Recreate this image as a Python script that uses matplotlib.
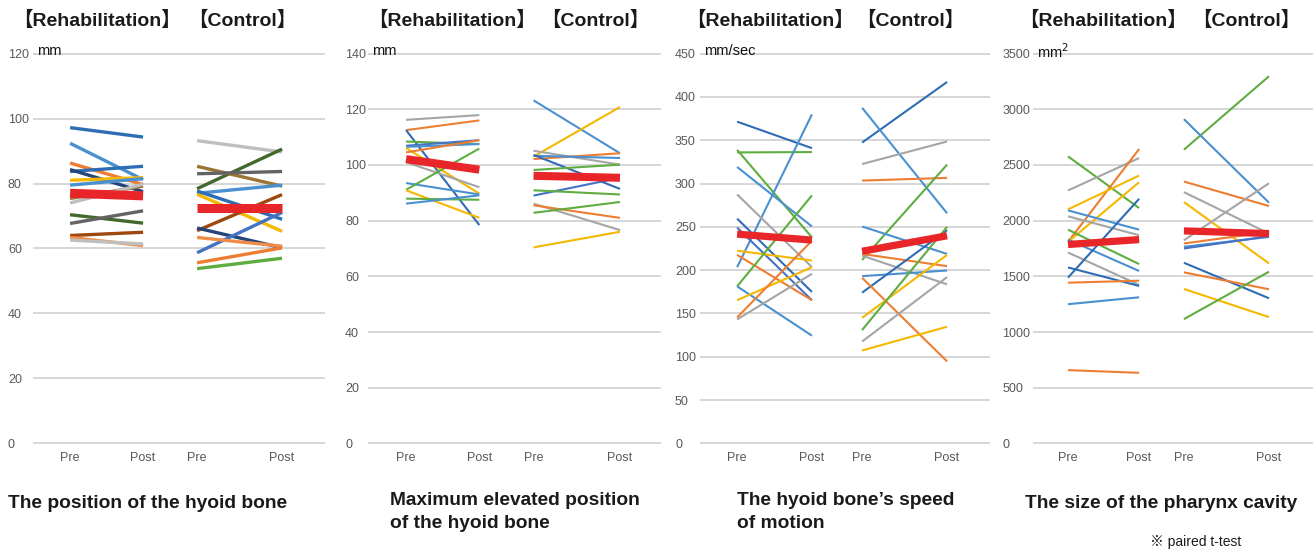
import numpy as np
import matplotlib
matplotlib.use("Agg")
import matplotlib.pyplot as plt

# Excel style colours
BLUE = "#4472c4"
LBLUE = "#4a90d0"
MBLUE = "#2e6db4"
NAVY = "#264478"
ORANGE = "#ed7d31"
LORANGE = "#f08c4a"
GRAY = "#a5a5a5"
LGRAY = "#bfbfbf"
DGRAY = "#636363"
YELLOW = "#f5b800"
GREEN = "#5fad41"
DGREEN = "#43682b"
OLIVE = "#9a7430"
BROWN = "#9e480e"
RED = "#e8262a"

# ---- The position of the hyoid bone (mm) ----
pos_rehab_pre = [97.2, 92.4, 86.3, 83.7, 84.3, 81.0, 79.5, 75.4, 74.0, 70.4, 67.7, 64.0, 63.4, 62.6]
pos_rehab_post = [94.3, 81.2, 79.7, 85.3, 77.5, 81.8, 81.5, 79.2, 79.8, 67.8, 71.6, 65.0, 60.9, 61.4]
pos_rehab_col = [MBLUE, LBLUE, ORANGE, MBLUE, NAVY, YELLOW, LBLUE, OLIVE, LGRAY, DGREEN, DGRAY, BROWN, LORANGE, LGRAY]
pos_ctrl_pre = [93.2, 78.4, 85.3, 83.0, 77.0, 76.7, 77.7, 65.5, 66.3, 58.7, 63.4, 55.6, 53.8]
pos_ctrl_post = [89.7, 90.6, 79.2, 83.7, 79.5, 65.3, 69.0, 76.6, 60.2, 71.1, 60.7, 60.2, 57.0]
pos_ctrl_col = [LGRAY, DGREEN, OLIVE, DGRAY, LBLUE, YELLOW, MBLUE, BROWN, NAVY, BLUE, LORANGE, ORANGE, GREEN]
pos_mean = [77.0, 76.2, 72.6, 72.6]

# ---- Maximum elevated position of the hyoid bone (mm) ----
elev_rehab_pre = [116.2, 112.5, 112.5, 108.4, 106.9, 106.5, 106.1, 104.5, 101.0, 93.5, 91.1, 90.9, 87.9, 86.1]
elev_rehab_post = [117.9, 116.0, 78.4, 107.5, 108.9, 107.5, 89.7, 108.9, 92.0, 89.4, 105.9, 81.0, 87.5, 89.1]
elev_rehab_col = [GRAY, ORANGE, MBLUE, GREEN, BLUE, LBLUE, YELLOW, ORANGE, GRAY, LBLUE, GREEN, YELLOW, GREEN, LBLUE]
elev_ctrl_pre = [123.2, 103.0, 105.1, 102.1, 103.3, 103.6, 98.2, 89.0, 90.9, 86.1, 85.5, 82.8, 70.4]
elev_ctrl_post = [104.2, 120.8, 100.1, 104.2, 102.5, 91.4, 100.1, 95.4, 89.4, 76.6, 81.0, 86.7, 76.0]
elev_ctrl_col = [LBLUE, YELLOW, GRAY, ORANGE, LBLUE, MBLUE, GREEN, BLUE, GREEN, GRAY, ORANGE, GREEN, YELLOW]
elev_mean = [102.1, 98.3, 96.1, 95.4]

# ---- The hyoid bone's speed of motion (mm/sec) ----
spd_rehab_pre = [371.4, 335.9, 338.9, 319.1, 203.4, 287.4, 259.5, 249.2, 222.5, 217.6, 181.3, 181.3, 165.3, 145.4, 143.1]
spd_rehab_post = [340.8, 336.3, 237.8, 250.4, 379.8, 203.4, 174.8, 165.3, 211.1, 165.3, 286.3, 124.4, 203.4, 234.0, 195.8]
spd_rehab_col = [MBLUE, GREEN, GREEN, LBLUE, LBLUE, GRAY, MBLUE, BLUE, YELLOW, ORANGE, GREEN, LBLUE, YELLOW, ORANGE, GRAY]
spd_ctrl_pre = [347.3, 387.4, 322.5, 303.4, 211.8, 250.4, 218.7, 216.8, 193.1, 174.0, 191.2, 145.0, 130.9, 117.6, 107.3]
spd_ctrl_post = [417.2, 265.6, 348.5, 306.5, 321.8, 218.7, 204.6, 183.6, 199.6, 246.2, 94.7, 217.6, 250.0, 192.0, 134.7]
spd_ctrl_col = [MBLUE, LBLUE, GRAY, ORANGE, GREEN, LBLUE, ORANGE, GRAY, LBLUE, MBLUE, ORANGE, YELLOW, GREEN, GRAY, YELLOW]
spd_mean = [241.6, 234.7, 221.8, 239.7]

# ---- The size of the pharynx cavity (mm2) ----
size_rehab_pre = [2577, 2271, 1809, 2101, 1809, 2092, 2039, 1919, 1830, 1714, 1580, 1488, 1443, 1250, 658]
size_rehab_post = [2113, 2562, 2643, 2405, 2345, 1919, 1869, 1610, 1548, 1423, 1414, 2196, 1461, 1312, 634]
size_rehab_col = [GREEN, GRAY, ORANGE, YELLOW, YELLOW, LBLUE, GRAY, GREEN, LBLUE, GRAY, MBLUE, MBLUE, ORANGE, LBLUE, ORANGE]
size_ctrl_pre = [2637, 2911, 2351, 2256, 2167, 1824, 1795, 1765, 1750, 1622, 1536, 1387, 1116]
size_ctrl_post = [3297, 2161, 2131, 1884, 1616, 2336, 1899, 1854, 1860, 1303, 1384, 1134, 1542]
size_ctrl_col = [GREEN, LBLUE, ORANGE, GRAY, YELLOW, GRAY, ORANGE, LBLUE, BLUE, MBLUE, ORANGE, YELLOW, GREEN]
size_mean = [1786, 1830, 1908, 1884]

x_labels = ["Pre", "Post", "Pre", "Post"]

panels = [
    dict(rp=pos_rehab_pre, rq=pos_rehab_post, rc=pos_rehab_col,
         cp=pos_ctrl_pre, cq=pos_ctrl_post, cc=pos_ctrl_col, mean=pos_mean,
         ymax=120, step=20, unit="mm", left=33, right=325,
         xs=[0.127, 0.377, 0.562, 0.853], lw=2.4, mlw=6.5, pad=18,
         hdr=(13, 188), title="The position of the hyoid bone", tx=8),
    dict(rp=elev_rehab_pre, rq=elev_rehab_post, rc=elev_rehab_col,
         cp=elev_ctrl_pre, cq=elev_ctrl_post, cc=elev_ctrl_col, mean=elev_mean,
         ymax=140, step=20, unit="mm", left=368, right=661,
         xs=[0.130, 0.380, 0.565, 0.860], lw=1.5, mlw=5.8, pad=16.5,
         hdr=(368, 541), title="Maximum elevated position\nof the hyoid bone", tx=390),
    dict(rp=spd_rehab_pre, rq=spd_rehab_post, rc=spd_rehab_col,
         cp=spd_ctrl_pre, cq=spd_ctrl_post, cc=spd_ctrl_col, mean=spd_mean,
         ymax=450, step=50, unit="mm/sec", left=700, right=990,
         xs=[0.128, 0.386, 0.559, 0.852], lw=1.5, mlw=5.2, pad=18,
         hdr=(686, 856), title="The hyoid bone\u2019s speed\nof motion", tx=737),
    dict(rp=size_rehab_pre, rq=size_rehab_post, rc=size_rehab_col,
         cp=size_ctrl_pre, cq=size_ctrl_post, cc=size_ctrl_col, mean=size_mean,
         ymax=3500, step=500, unit="mm$^2$", left=1033, right=1313,
         xs=[0.125, 0.379, 0.539, 0.843], lw=1.5, mlw=5.2, pad=22,
         hdr=(1019, 1192), title="The size of the pharynx cavity", tx=1025),
]

W, H = 1316, 553
fig = plt.figure(figsize=(W / 100, H / 100), dpi=100)
fonts = ["Liberation Sans", "Noto Sans CJK JP", "DejaVu Sans"]
plt.rcParams["font.family"] = fonts

top_px, bot_px = 52, 445

for p in panels:
    ax = fig.add_axes([p["left"] / W, 1 - bot_px / H,
                       (p["right"] - p["left"]) / W, (bot_px - top_px) / H])
    ymax = p["ymax"]
    ax.set_xlim(0, 1)
    ax.set_ylim(-ymax * 0.004, ymax * 1.004)
    for s in ax.spines.values():
        s.set_visible(False)

    ticks = np.arange(0, ymax + 1, p["step"])
    ax.set_yticks(ticks)
    ax.set_yticklabels([str(int(t)) for t in ticks])
    for lbl in ax.get_yticklabels():
        lbl.set_horizontalalignment("left")
    ax.tick_params(axis="y", length=0, pad=p["pad"], labelsize=9, labelcolor="#595959")
    ax.set_xticks(p["xs"])
    ax.set_xticklabels(x_labels)
    ax.tick_params(axis="x", length=0, pad=5, labelsize=9, labelcolor="#595959")
    ax.yaxis.grid(True, color="#cccccc", linewidth=1.1)
    ax.set_axisbelow(True)

    x0, x1, x2, x3 = p["xs"]
    for a, b, c in zip(p["rp"], p["rq"], p["rc"]):
        ax.plot([x0, x1], [a, b], color=c, lw=p["lw"], solid_capstyle="butt")
    for a, b, c in zip(p["cp"], p["cq"], p["cc"]):
        ax.plot([x2, x3], [a, b], color=c, lw=p["lw"], solid_capstyle="butt")
    m = p["mean"]
    ax.plot([x0, x1], m[:2], color=RED, lw=p["mlw"], solid_capstyle="butt", zorder=5)
    ax.plot([x2, x3], m[2:], color=RED, lw=p["mlw"], solid_capstyle="butt", zorder=5)

    ax.annotate(p["unit"], xy=(0, ymax), xycoords=("axes fraction", "data"),
                xytext=(3, 1.5), textcoords="offset points",
                ha="left", va="center", fontsize=10.5, color="#111111")

    # group headers and panel caption
    fig.text(p["hdr"][0] / W, 1 - 20 / H, "\u3010Rehabilitation\u3011", ha="left", va="center",
             fontsize=14, fontweight="bold", color="#1a1a1a", family=fonts)
    fig.text(p["hdr"][1] / W, 1 - 20 / H, "\u3010Control\u3011", ha="left", va="center",
             fontsize=14, fontweight="bold", color="#1a1a1a", family=fonts)
    ty = 512 if "\n" in p["title"] else 503
    fig.text(p["tx"] / W, 1 - ty / H, p["title"], ha="left", va="center",
             fontsize=13.8, fontweight="bold", color="#1a1a1a", linespacing=1.4)

fig.text(1150 / W, 1 - 542 / H, "\u203b paired t-test", ha="left", va="center",
         fontsize=10, color="#1a1a1a", family=fonts)

fig.savefig("out.png", dpi=100)
